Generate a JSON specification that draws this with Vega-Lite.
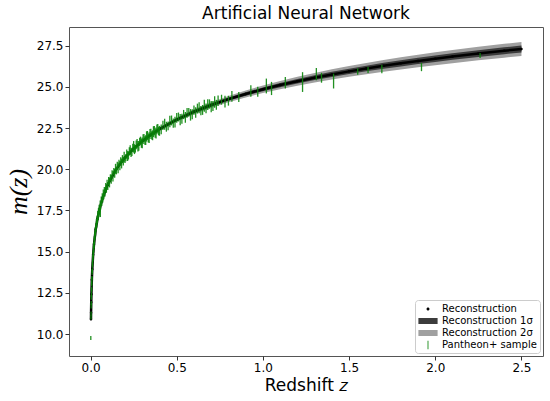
{
  "$schema": "https://vega.github.io/schema/vega-lite/v6.json",
  "width": 474,
  "height": 329,
  "autosize": {"type": "none"},
  "padding": {"left": 69, "top": 27, "right": 7, "bottom": 45},
  "background": "white",
  "config": {
    "view": {"stroke": "#555555", "strokeWidth": 1},
    "font": "DejaVu Sans",
    "axis": {"domain": false, "grid": false, "labelFont": "DejaVu Sans", "labelFontSize": 12, "labelColor": "#000", "tickColor": "#333", "tickSize": 4, "labelPadding": 2, "titleColor": "#000", "titleFontWeight": "normal"},
    "legend": {"title": null, "orient": "bottom-right", "offset": 3, "padding": 3, "fillColor": "white", "strokeColor": "#cccccc", "cornerRadius": 3, "labelFont": "DejaVu Sans", "labelFontSize": 10, "labelColor": "#000", "symbolSize": 144, "rowPadding": 1, "symbolOffset": 4, "labelOffset": 8, "symbolStrokeWidth": 0}
  },
  "title": {"text": "Artificial Neural Network", "fontSize": 17, "font": "DejaVu Sans", "fontWeight": "normal", "color": "#000", "offset": 4},
  "datasets": {
    "rec": [
      {"z": 0.0025, "m": 10.899, "l1": 10.869, "h1": 10.929, "l2": 10.839, "h2": 10.959},
      {"z": 0.003, "m": 11.3, "l1": 11.27, "h1": 11.33, "l2": 11.24, "h2": 11.36},
      {"z": 0.004, "m": 11.926, "l1": 11.896, "h1": 11.956, "l2": 11.866, "h2": 11.986},
      {"z": 0.005, "m": 12.412, "l1": 12.382, "h1": 12.442, "l2": 12.352, "h2": 12.472},
      {"z": 0.0075, "m": 13.297, "l1": 13.267, "h1": 13.327, "l2": 13.237, "h2": 13.357},
      {"z": 0.01, "m": 13.926, "l1": 13.896, "h1": 13.956, "l2": 13.866, "h2": 13.986},
      {"z": 0.015, "m": 14.814, "l1": 14.784, "h1": 14.844, "l2": 14.754, "h2": 14.874},
      {"z": 0.02, "m": 15.448, "l1": 15.418, "h1": 15.478, "l2": 15.388, "h2": 15.508},
      {"z": 0.03, "m": 16.345, "l1": 16.315, "h1": 16.375, "l2": 16.285, "h2": 16.405},
      {"z": 0.04, "m": 16.986, "l1": 16.956, "h1": 17.016, "l2": 16.926, "h2": 17.046},
      {"z": 0.05, "m": 17.488, "l1": 17.458, "h1": 17.518, "l2": 17.428, "h2": 17.548},
      {"z": 0.07, "m": 18.252, "l1": 18.22, "h1": 18.284, "l2": 18.188, "h2": 18.316},
      {"z": 0.1, "m": 19.065, "l1": 19.03, "h1": 19.1, "l2": 18.995, "h2": 19.135},
      {"z": 0.15, "m": 20.016, "l1": 19.976, "h1": 20.056, "l2": 19.936, "h2": 20.096},
      {"z": 0.2, "m": 20.706, "l1": 20.661, "h1": 20.751, "l2": 20.616, "h2": 20.796},
      {"z": 0.25, "m": 21.252, "l1": 21.204, "h1": 21.3, "l2": 21.156, "h2": 21.348},
      {"z": 0.3, "m": 21.705, "l1": 21.655, "h1": 21.755, "l2": 21.605, "h2": 21.805},
      {"z": 0.35, "m": 22.094, "l1": 22.039, "h1": 22.149, "l2": 21.984, "h2": 22.204},
      {"z": 0.4, "m": 22.435, "l1": 22.375, "h1": 22.495, "l2": 22.315, "h2": 22.555},
      {"z": 0.5, "m": 23.011, "l1": 22.946, "h1": 23.076, "l2": 22.881, "h2": 23.141},
      {"z": 0.6, "m": 23.489, "l1": 23.414, "h1": 23.564, "l2": 23.339, "h2": 23.639},
      {"z": 0.7, "m": 23.897, "l1": 23.812, "h1": 23.982, "l2": 23.727, "h2": 24.067},
      {"z": 0.8, "m": 24.253, "l1": 24.158, "h1": 24.348, "l2": 24.063, "h2": 24.443},
      {"z": 0.9, "m": 24.568, "l1": 24.463, "h1": 24.673, "l2": 24.358, "h2": 24.778},
      {"z": 1.0, "m": 24.85, "l1": 24.735, "h1": 24.965, "l2": 24.62, "h2": 25.08},
      {"z": 1.1, "m": 25.106, "l1": 24.981, "h1": 25.231, "l2": 24.856, "h2": 25.356},
      {"z": 1.2, "m": 25.34, "l1": 25.205, "h1": 25.475, "l2": 25.07, "h2": 25.61},
      {"z": 1.3, "m": 25.555, "l1": 25.41, "h1": 25.7, "l2": 25.265, "h2": 25.845},
      {"z": 1.4, "m": 25.754, "l1": 25.599, "h1": 25.909, "l2": 25.444, "h2": 26.064},
      {"z": 1.5, "m": 25.939, "l1": 25.774, "h1": 26.104, "l2": 25.609, "h2": 26.269},
      {"z": 1.6, "m": 26.111, "l1": 25.941, "h1": 26.281, "l2": 25.771, "h2": 26.451},
      {"z": 1.7, "m": 26.274, "l1": 26.094, "h1": 26.454, "l2": 25.914, "h2": 26.634},
      {"z": 1.8, "m": 26.426, "l1": 26.241, "h1": 26.611, "l2": 26.056, "h2": 26.796},
      {"z": 1.9, "m": 26.57, "l1": 26.38, "h1": 26.76, "l2": 26.19, "h2": 26.95},
      {"z": 2.0, "m": 26.707, "l1": 26.512, "h1": 26.902, "l2": 26.317, "h2": 27.097},
      {"z": 2.1, "m": 26.837, "l1": 26.637, "h1": 27.037, "l2": 26.437, "h2": 27.237},
      {"z": 2.25, "m": 27.02, "l1": 26.815, "h1": 27.225, "l2": 26.61, "h2": 27.43},
      {"z": 2.4, "m": 27.189, "l1": 26.979, "h1": 27.399, "l2": 26.769, "h2": 27.609},
      {"z": 2.5, "m": 27.298, "l1": 27.088, "h1": 27.508, "l2": 26.878, "h2": 27.718}
    ],
    "pan": [
      {"z": 0.0015, "m": 9.76, "e": 0.12},
      {"z": 0.0026, "m": 11.02, "e": 0.14},
      {"z": 0.003, "m": 11.25, "e": 0.12},
      {"z": 0.0035, "m": 11.7, "e": 0.15},
      {"z": 0.004, "m": 11.88, "e": 0.12},
      {"z": 0.0045, "m": 12.22, "e": 0.14},
      {"z": 0.005, "m": 12.38, "e": 0.13},
      {"z": 0.0055, "m": 12.66, "e": 0.15},
      {"z": 0.006, "m": 12.74, "e": 0.12},
      {"z": 0.0065, "m": 13.05, "e": 0.16},
      {"z": 0.007, "m": 13.1, "e": 0.14},
      {"z": 0.0075, "m": 13.35, "e": 0.15},
      {"z": 0.008, "m": 13.4, "e": 0.13},
      {"z": 0.009, "m": 13.76, "e": 0.17},
      {"z": 0.01, "m": 13.85, "e": 0.15},
      {"z": 0.011, "m": 14.2, "e": 0.18},
      {"z": 0.012, "m": 14.27, "e": 0.16},
      {"z": 0.013, "m": 14.58, "e": 0.2},
      {"z": 0.014, "m": 14.6, "e": 0.17},
      {"z": 0.015, "m": 14.88, "e": 0.19},
      {"z": 0.016, "m": 14.9, "e": 0.16},
      {"z": 0.017, "m": 15.18, "e": 0.22},
      {"z": 0.018, "m": 15.12, "e": 0.18},
      {"z": 0.019, "m": 15.4, "e": 0.2},
      {"z": 0.02, "m": 15.38, "e": 0.17},
      {"z": 0.0215, "m": 15.7, "e": 0.23},
      {"z": 0.023, "m": 15.66, "e": 0.18},
      {"z": 0.0245, "m": 15.99, "e": 0.25},
      {"z": 0.026, "m": 15.92, "e": 0.19},
      {"z": 0.0275, "m": 16.25, "e": 0.22},
      {"z": 0.029, "m": 16.18, "e": 0.2},
      {"z": 0.0305, "m": 16.49, "e": 0.24},
      {"z": 0.032, "m": 16.4, "e": 0.18},
      {"z": 0.034, "m": 16.72, "e": 0.26},
      {"z": 0.036, "m": 16.66, "e": 0.2},
      {"z": 0.038, "m": 16.95, "e": 0.23},
      {"z": 0.04, "m": 16.9, "e": 0.19},
      {"z": 0.042, "m": 17.19, "e": 0.28},
      {"z": 0.044, "m": 17.12, "e": 0.2},
      {"z": 0.046, "m": 17.4, "e": 0.24},
      {"z": 0.048, "m": 17.3, "e": 0.21},
      {"z": 0.05, "m": 17.55, "e": 0.3},
      {"z": 0.053, "m": 17.52, "e": 0.2},
      {"z": 0.056, "m": 17.85, "e": 0.26},
      {"z": 0.057, "m": 17.45, "e": 0.35},
      {"z": 0.059, "m": 17.78, "e": 0.22},
      {"z": 0.062, "m": 18.06, "e": 0.28},
      {"z": 0.065, "m": 17.98, "e": 0.21},
      {"z": 0.068, "m": 18.3, "e": 0.25},
      {"z": 0.071, "m": 18.2, "e": 0.22},
      {"z": 0.074, "m": 18.47, "e": 0.3},
      {"z": 0.077, "m": 18.38, "e": 0.2},
      {"z": 0.08, "m": 18.66, "e": 0.26},
      {"z": 0.084, "m": 18.58, "e": 0.23},
      {"z": 0.088, "m": 18.88, "e": 0.28},
      {"z": 0.092, "m": 18.79, "e": 0.22},
      {"z": 0.096, "m": 19.1, "e": 0.27},
      {"z": 0.1, "m": 18.98, "e": 0.24},
      {"z": 0.105, "m": 19.28, "e": 0.25},
      {"z": 0.11, "m": 19.2, "e": 0.3},
      {"z": 0.115, "m": 19.47, "e": 0.22},
      {"z": 0.12, "m": 19.4, "e": 0.28},
      {"z": 0.125, "m": 19.7, "e": 0.24},
      {"z": 0.13, "m": 19.58, "e": 0.32},
      {"z": 0.135, "m": 19.85, "e": 0.22},
      {"z": 0.14, "m": 19.76, "e": 0.27},
      {"z": 0.145, "m": 20.03, "e": 0.3},
      {"z": 0.15, "m": 19.92, "e": 0.23},
      {"z": 0.155, "m": 20.2, "e": 0.26},
      {"z": 0.16, "m": 20.08, "e": 0.33},
      {"z": 0.165, "m": 20.35, "e": 0.22},
      {"z": 0.17, "m": 20.22, "e": 0.28},
      {"z": 0.175, "m": 20.48, "e": 0.25},
      {"z": 0.18, "m": 20.35, "e": 0.3},
      {"z": 0.185, "m": 20.62, "e": 0.24},
      {"z": 0.19, "m": 20.49, "e": 0.27},
      {"z": 0.195, "m": 20.74, "e": 0.32},
      {"z": 0.2, "m": 20.6, "e": 0.22},
      {"z": 0.205, "m": 20.7, "e": 0.22},
      {"z": 0.21, "m": 20.92, "e": 0.28},
      {"z": 0.215, "m": 20.8, "e": 0.3},
      {"z": 0.22, "m": 20.84, "e": 0.25},
      {"z": 0.225, "m": 21.08, "e": 0.25},
      {"z": 0.23, "m": 21.16, "e": 0.3},
      {"z": 0.235, "m": 21.02, "e": 0.28},
      {"z": 0.24, "m": 21.05, "e": 0.24},
      {"z": 0.245, "m": 21.3, "e": 0.24},
      {"z": 0.25, "m": 21.36, "e": 0.35},
      {"z": 0.255, "m": 21.22, "e": 0.3},
      {"z": 0.26, "m": 21.24, "e": 0.23},
      {"z": 0.265, "m": 21.48, "e": 0.26},
      {"z": 0.27, "m": 21.55, "e": 0.28},
      {"z": 0.275, "m": 21.4, "e": 0.32},
      {"z": 0.28, "m": 21.42, "e": 0.3},
      {"z": 0.285, "m": 21.66, "e": 0.25},
      {"z": 0.29, "m": 21.73, "e": 0.25},
      {"z": 0.295, "m": 21.58, "e": 0.28},
      {"z": 0.3, "m": 21.6, "e": 0.32},
      {"z": 0.305, "m": 21.83, "e": 0.3},
      {"z": 0.31, "m": 21.9, "e": 0.24},
      {"z": 0.315, "m": 21.74, "e": 0.26},
      {"z": 0.32, "m": 21.77, "e": 0.3},
      {"z": 0.325, "m": 21.99, "e": 0.31},
      {"z": 0.33, "m": 22.05, "e": 0.27},
      {"z": 0.335, "m": 21.9, "e": 0.27},
      {"z": 0.34, "m": 21.92, "e": 0.33},
      {"z": 0.345, "m": 22.14, "e": 0.3},
      {"z": 0.35, "m": 22.2, "e": 0.25},
      {"z": 0.355, "m": 22.05, "e": 0.25},
      {"z": 0.36, "m": 22.06, "e": 0.3},
      {"z": 0.365, "m": 22.28, "e": 0.33},
      {"z": 0.37, "m": 22.34, "e": 0.28},
      {"z": 0.375, "m": 22.19, "e": 0.28},
      {"z": 0.38, "m": 22.2, "e": 0.34},
      {"z": 0.385, "m": 22.42, "e": 0.3},
      {"z": 0.39, "m": 22.48, "e": 0.26},
      {"z": 0.395, "m": 22.32, "e": 0.26},
      {"z": 0.4, "m": 22.33, "e": 0.3},
      {"z": 0.41, "m": 22.42, "e": 0.3},
      {"z": 0.42, "m": 22.66, "e": 0.28},
      {"z": 0.43, "m": 22.73, "e": 0.33},
      {"z": 0.44, "m": 22.58, "e": 0.3},
      {"z": 0.45, "m": 22.63, "e": 0.27},
      {"z": 0.46, "m": 22.9, "e": 0.35},
      {"z": 0.47, "m": 22.96, "e": 0.3},
      {"z": 0.48, "m": 22.8, "e": 0.28},
      {"z": 0.49, "m": 22.86, "e": 0.32},
      {"z": 0.5, "m": 23.12, "e": 0.3},
      {"z": 0.51, "m": 23.17, "e": 0.27},
      {"z": 0.52, "m": 23.01, "e": 0.34},
      {"z": 0.53, "m": 23.06, "e": 0.3},
      {"z": 0.54, "m": 23.32, "e": 0.28},
      {"z": 0.55, "m": 23.15, "e": 0.33},
      {"z": 0.56, "m": 23.42, "e": 0.3},
      {"z": 0.57, "m": 23.46, "e": 0.26},
      {"z": 0.58, "m": 23.3, "e": 0.35},
      {"z": 0.59, "m": 23.34, "e": 0.3},
      {"z": 0.6, "m": 23.59, "e": 0.28},
      {"z": 0.61, "m": 23.44, "e": 0.32},
      {"z": 0.62, "m": 23.68, "e": 0.3},
      {"z": 0.63, "m": 23.73, "e": 0.34},
      {"z": 0.64, "m": 23.56, "e": 0.28},
      {"z": 0.65, "m": 23.6, "e": 0.3},
      {"z": 0.66, "m": 23.85, "e": 0.36},
      {"z": 0.67, "m": 23.69, "e": 0.3},
      {"z": 0.68, "m": 23.92, "e": 0.32},
      {"z": 0.69, "m": 23.96, "e": 0.28},
      {"z": 0.7, "m": 23.8, "e": 0.34},
      {"z": 0.71, "m": 23.84, "e": 0.3},
      {"z": 0.72, "m": 24.08, "e": 0.35},
      {"z": 0.73, "m": 23.91, "e": 0.3},
      {"z": 0.74, "m": 24.15, "e": 0.32},
      {"z": 0.76, "m": 24.22, "e": 0.3},
      {"z": 0.78, "m": 24.1, "e": 0.36},
      {"z": 0.8, "m": 24.16, "e": 0.3},
      {"z": 0.82, "m": 24.42, "e": 0.33},
      {"z": 0.86, "m": 24.38, "e": 0.3},
      {"z": 0.93, "m": 24.75, "e": 0.35},
      {"z": 0.97, "m": 24.7, "e": 0.3},
      {"z": 1.02, "m": 25.05, "e": 0.45},
      {"z": 1.05, "m": 24.9, "e": 0.4},
      {"z": 1.13, "m": 25.25, "e": 0.35},
      {"z": 1.23, "m": 25.29, "e": 0.6},
      {"z": 1.31, "m": 25.77, "e": 0.37},
      {"z": 1.34, "m": 25.55, "e": 0.3},
      {"z": 1.41, "m": 25.35, "e": 0.45},
      {"z": 1.55, "m": 25.93, "e": 0.2},
      {"z": 1.61, "m": 26.02, "e": 0.18},
      {"z": 1.69, "m": 26.08, "e": 0.25},
      {"z": 1.92, "m": 26.2, "e": 0.25},
      {"z": 2.26, "m": 26.9, "e": 0.15}
    ]
  },
  "encoding": {
    "x": {"field": "z", "type": "quantitative", "scale": {"domain": [-0.125, 2.625], "nice": false, "zero": false},
      "axis": {"values": [0, 0.5, 1, 1.5, 2, 2.5], "format": ".1f", "title": "Redshift 𝑧", "titleFontSize": 17, "titleFont": "DejaVu Sans", "titlePadding": 4}}
  },
  "layer": [
    {
      "data": {"name": "rec"},
      "mark": {"type": "area", "opacity": 1},
      "encoding": {
        "y": {"field": "l2", "type": "quantitative", "title": "m(z)", "scale": {"domain": [8.67, 28.63], "nice": false, "zero": false},
          "axis": {"values": [10, 12.5, 15, 17.5, 20, 22.5, 25, 27.5], "format": ".1f", "title": "m(z)", "titleFont": "Liberation Serif", "titleFontStyle": "italic", "titleFontSize": 26, "titlePadding": 5}},
        "y2": {"field": "h2"},
        "color": {"datum": "Reconstruction 2σ", "type": "nominal",
          "scale": {"domain": ["Reconstruction", "Reconstruction 1σ", "Reconstruction 2σ", "Pantheon+ sample"], "range": ["#000000", "#3c3c3c", "#a0a0a0", "#0a850a"]},
          "legend": {"title": null}
        }
      }
    },
    {
      "data": {"name": "rec"},
      "mark": {"type": "area", "opacity": 1},
      "encoding": {
        "y": {"field": "l1", "type": "quantitative", "title": "m(z)"},
        "y2": {"field": "h1"},
        "color": {"datum": "Reconstruction 1σ", "type": "nominal"}
      }
    },
    {
      "data": {"name": "rec"},
      "mark": {"type": "line", "strokeWidth": 2.5},
      "encoding": {
        "y": {"field": "m", "type": "quantitative", "title": "m(z)"},
        "color": {"datum": "Reconstruction", "type": "nominal"}
      }
    },
    {
      "data": {"name": "rec"},
      "mark": {"type": "point", "filled": true, "size": 100, "opacity": 1},
      "encoding": {
        "y": {"field": "m", "type": "quantitative", "title": "m(z)"},
        "color": {"datum": "Reconstruction", "type": "nominal"},
        "shape": {"datum": "Reconstruction", "type": "nominal",
          "scale": {"domain": ["Reconstruction", "Reconstruction 1σ", "Reconstruction 2σ", "Pantheon+ sample"],
            "range": ["M-0.25,0A0.25,0.25,0,1,1,0.25,0A0.25,0.25,0,1,1,-0.25,0Z", "M-1.6,-0.5H1.6V0.5H-1.6Z", "M-1.6,-0.5H1.6V0.5H-1.6Z", "M-0.07,-0.7H0.07V0.7H-0.07Z"]},
          "legend": {"title": null}
        }
      }
    },
    {
      "data": {"name": "pan"},
      "mark": {"type": "errorbar", "thickness": 1.3, "rule": {"opacity": 0.9}},
      "encoding": {
        "y": {"field": "m", "type": "quantitative", "title": "m(z)"},
        "yError": {"field": "e"},
        "color": {"datum": "Pantheon+ sample", "type": "nominal"}
      }
    }
  ]
}
